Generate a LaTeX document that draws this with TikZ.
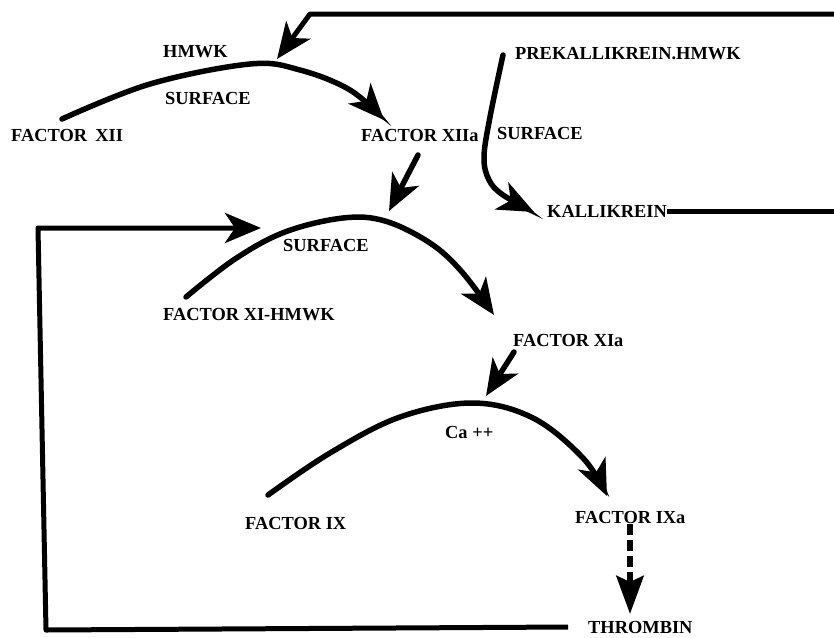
\documentclass[tikz,border=0pt]{standalone}
\usepackage{fontspec}
\setmainfont{Liberation Serif}
\usetikzlibrary{arrows.meta}
\begin{document}
\begin{tikzpicture}[x=1pt,y=-1pt,
  lbl/.style={font=\fontsize{18.4}{21}\selectfont\bfseries, inner sep=0pt, anchor=west},
  headbig/.style={-{Stealth[length=36pt,width=30pt,inset=10pt]}},
  rxn/.style={line width=5.5pt, line cap=round, headbig},
  fb/.style={line width=5pt, line join=round},
  dashedarrow/.style={line width=6.5pt, dash pattern=on 11pt off 5pt, -{Stealth[length=38pt,width=27pt,inset=6pt]}}
]
\useasboundingbox (0,0) rectangle (834,637);

% labels
\node[lbl] (hmwk)  at (163,52)  {HMWK};
\node[lbl] (surf1) at (165,98)  {SURFACE};
\node[lbl] (f12)   at (11,135)  {FACTOR\hspace{0.45em}XII};
\node[lbl] (f12a)  at (361,135) {FACTOR XIIa};
\node[lbl] (prek)  at (515,54)  {PREKALLIKREIN.HMWK};
\node[lbl] (surf2) at (497,133) {SURFACE};
\node[lbl] (kal)   at (547,211) {KALLIKREIN};
\node[lbl] (surf3) at (283,245) {SURFACE};
\node[lbl] (f11)   at (163,315) {FACTOR XI-HMWK};
\node[lbl] (f11a)  at (513,340) {FACTOR XIa};
\node[lbl] (ca)    at (445,432) {Ca ++};
\node[lbl] (f9)    at (245,523) {FACTOR IX};
\node[lbl] (f9a)   at (575,517) {FACTOR IXa};
\node[lbl] (thr)   at (588,627) {THROMBIN};

% coordinates
\coordinate (a1) at (62,119);   \coordinate (a2) at (150,84);  \coordinate (a3) at (250,64);
\coordinate (a4) at (300,70);   \coordinate (a5) at (350,90);  \coordinate (a6) at (384,120);
\coordinate (b1) at (186,297);  \coordinate (b2) at (235,259); \coordinate (b3) at (285,232);
\coordinate (b4) at (343,218);  \coordinate (b5) at (385,221); \coordinate (b6) at (430,243);
\coordinate (b7) at (462,272);  \coordinate (b8) at (494,315);
\coordinate (c1) at (268,495);  \coordinate (c2) at (330,453); \coordinate (c3) at (400,417);
\coordinate (c4) at (473,403);  \coordinate (c5) at (533,418); \coordinate (c6) at (583,458);
\coordinate (c7) at (607,496);
\coordinate (p1) at (503,55);   \coordinate (p2) at (490,117); \coordinate (p3) at (484,157);
\coordinate (p4) at (489,180);  \coordinate (p5) at (503,195); \coordinate (p6) at (534,212);
\coordinate (topR) at (834,14); \coordinate (topC) at (310,14); \coordinate (topT) at (277,59);
\coordinate (kalR) at (834,211);
\coordinate (lb1) at (46,630);  \coordinate (lb2) at (38,228); \coordinate (lbT) at (261,228);
\coordinate (x12s) at (418,155); \coordinate (x12t) at (389,211);
\coordinate (x11s) at (514,352); \coordinate (x11t) at (486,396);
\coordinate (d1) at (630,524);  \coordinate (d2) at (630,614);

% reaction curves
\draw[rxn] plot[smooth, tension=0.6] coordinates {(a1) (a2) (a3) (a4) (a5) (a6)};
\draw[rxn] plot[smooth, tension=0.6] coordinates {(b1) (b2) (b3) (b4) (b5) (b6) (b7) (b8)};
\draw[rxn] plot[smooth, tension=0.6] coordinates {(c1) (c2) (c3) (c4) (c5) (c6) (c7)};
\draw[rxn] plot[smooth, tension=0.6] coordinates {(p1) (p2) (p3) (p4) (p5) (p6)};

% feedback lines
\draw[fb, headbig] (topR) -- (topC) -- (topT);
\draw[fb] (kal.east) -- (kalR);
\draw[fb, headbig] ([xshift=-20pt]thr.west) -- (lb1) -- (lb2) -- (lbT);

% short activating arrows
\draw[rxn] (x12s) -- (x12t);
\draw[rxn] (x11s) -- (x11t);
\draw[dashedarrow] (d1) -- (d2);
\end{tikzpicture}
\end{document}
